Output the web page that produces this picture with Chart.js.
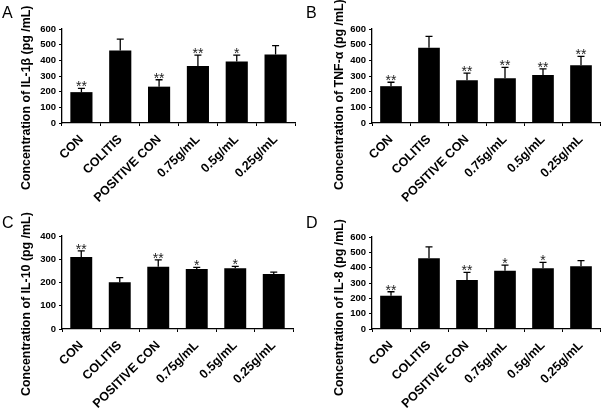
<!DOCTYPE html>
<html>
<head>
<meta charset="utf-8">
<script src="https://cdn.jsdelivr.net/npm/chart.js@4"></script>
<style>
  body { margin: 0; background: #fff; width: 608px; height: 412px; position: relative; overflow: hidden; font-family: "Liberation Sans", Arial, sans-serif; }
  .panel { position: absolute; width: 304px; height: 206px; }
  .panel canvas { position: absolute; left: 0; top: 0; }
  .letter { position: absolute; left: 2px; font-size: 16px; line-height: 1; color: #000; }
  .ytitle { position: absolute; font-weight: bold; font-size: 12.4px; line-height: 1; white-space: nowrap; color: #000; transform: rotate(-90deg); transform-origin: 0 0; }
</style>
</head>
<body>
<div class="panel" id="pA" style="left:0;top:0"><canvas id="cA" width="304" height="206"></canvas></div>
<div class="panel" id="pB" style="left:304px;top:0"><canvas id="cB" width="304" height="206"></canvas></div>
<div class="panel" id="pC" style="left:0;top:206px"><canvas id="cC" width="304" height="206"></canvas></div>
<div class="panel" id="pD" style="left:304px;top:206px"><canvas id="cD" width="304" height="206"></canvas></div>
<script>
const groups = ['CON', 'COLITIS', 'POSITIVE CON', '0.75g/mL', '0.5g/mL', '0.25g/mL'];

// IL-1β
const il1bMean = [197, 463, 232, 364, 392, 438];
const il1bSd = [24, 72, 44, 69, 41, 56];
const il1bStars = ['**', '', '**', '**', '*', ''];
const il1bTicks = [0, 100, 200, 300, 400, 500, 600];

// TNF-α
const tnfMean = [235, 480, 273, 285, 307, 368];
const tnfSd = [25, 73, 45, 70, 38, 57];
const tnfStars = ['**', '', '**', '**', '**', '**'];
const tnfTicks = [0, 100, 200, 300, 400, 500, 600];

// IL-10
const il10Mean = [310, 201, 268, 258, 261, 237];
const il10Sd = [26, 20, 29, 7, 8, 8];
const il10Stars = ['**', '', '**', '*', '*', ''];
const il10Ticks = [0, 100, 200, 300, 400];

// IL-8
const il8Mean = [217, 461, 319, 380, 396, 409];
const il8Sd = [26, 74, 50, 37, 39, 37];
const il8Stars = ['**', '', '**', '*', '*', ''];
const il8Ticks = [0, 100, 200, 300, 400, 500, 600];

const FONT = '"Liberation Sans", Arial, sans-serif';

const panels = [
    { key: 'A', letterTop: 5, title: 'Concentration of IL-1\u03b2 (pg /mL)', titleX: 20, mean: il1bMean, sd: il1bSd, stars: il1bStars, ticks: il1bTicks, area: { left: 62, top: 29, right: 295, bottom: 123 } },
    { key: 'B', letterTop: 5, title: 'Concentration of TNF-\u03b1 (pg /mL)', titleX: 29, mean: tnfMean, sd: tnfSd, stars: tnfStars, ticks: tnfTicks, area: { left: 68, top: 29, right: 296, bottom: 123 } },
    { key: 'C', letterTop: 9, title: 'Concentration of IL-10 (pg /mL)', titleX: 20, mean: il10Mean, sd: il10Sd, stars: il10Stars, ticks: il10Ticks, area: { left: 62, top: 30, right: 293, bottom: 123 } },
    { key: 'D', letterTop: 9, title: 'Concentration of IL-8 (pg /mL)', titleX: 29, mean: il8Mean, sd: il8Sd, stars: il8Stars, ticks: il8Ticks, area: { left: 68, top: 31, right: 296, bottom: 123 } }
];

// upper error bars + significance stars
const errorBars = {
    id: 'errorBars',
    afterDatasetsDraw(chart, args, opts) {
        const { ctx } = chart;
        const y = chart.scales.y;
        const meta = chart.getDatasetMeta(0);
        ctx.save();
        ctx.strokeStyle = '#000';
        ctx.lineWidth = 1.3;
        meta.data.forEach((bar, i) => {
            const top = y.getPixelForValue(opts.mean[i] + opts.sd[i]);
            ctx.beginPath();
            ctx.moveTo(bar.x, bar.y);
            ctx.lineTo(bar.x, top);
            ctx.moveTo(bar.x - 3.5, top);
            ctx.lineTo(bar.x + 3.5, top);
            ctx.stroke();
            if (opts.stars[i]) {
                ctx.fillStyle = '#222';
                ctx.font = '14px ' + FONT;
                ctx.textAlign = 'center';
                ctx.textBaseline = 'alphabetic';
                ctx.fillText(opts.stars[i], bar.x, top + 3);
            }
        });
        ctx.restore();
    }
};

panels.forEach(p => {
    const wrap = document.getElementById('p' + p.key);
    const letter = document.createElement('div');
    letter.className = 'letter';
    letter.style.top = p.letterTop + 'px';
    letter.textContent = p.key;
    wrap.appendChild(letter);

    const t = document.createElement('div');
    t.className = 'ytitle';
    t.style.left = p.titleX + 'px';
    t.style.top = '190px';
    t.textContent = p.title;
    wrap.appendChild(t);

    new Chart(document.getElementById('c' + p.key), {
        type: 'bar',
        data: {
            labels: groups,
            datasets: [{
                data: p.mean,
                backgroundColor: '#000',
                borderWidth: 0,
                barPercentage: 0.57,
                categoryPercentage: 1
            }]
        },
        options: {
            responsive: false,
            animation: false,
            layout: { padding: { top: p.area.top, right: 304 - p.area.right, left: 0, bottom: 0 } },
            plugins: {
                legend: { display: false },
                tooltip: { enabled: false },
                errorBars: { mean: p.mean, sd: p.sd, stars: p.stars }
            },
            scales: {
                x: {
                    grid: { drawOnChartArea: false, drawTicks: true, tickLength: 3, color: '#000', offset: true },
                    border: { color: '#000', width: 1.3 },
                    ticks: { color: '#000', font: { family: FONT, size: 12.5, weight: 'bold' }, minRotation: 45, maxRotation: 45, padding: 6, autoSkip: false },
                    afterFit(s) { s.height = 206 - p.area.bottom; }
                },
                y: {
                    min: p.ticks[0],
                    max: p.ticks[p.ticks.length - 1],
                    ticks: { stepSize: 100, color: '#000', font: { family: FONT, size: 9.5, weight: 'bold' }, padding: 3 },
                    grid: { drawOnChartArea: false, tickLength: 3, color: '#000' },
                    border: { color: '#000', width: 1.3 },
                    afterFit(s) { s.width = p.area.left; }
                }
            }
        },
        plugins: [errorBars]
    });
});
</script>
</body>
</html>
